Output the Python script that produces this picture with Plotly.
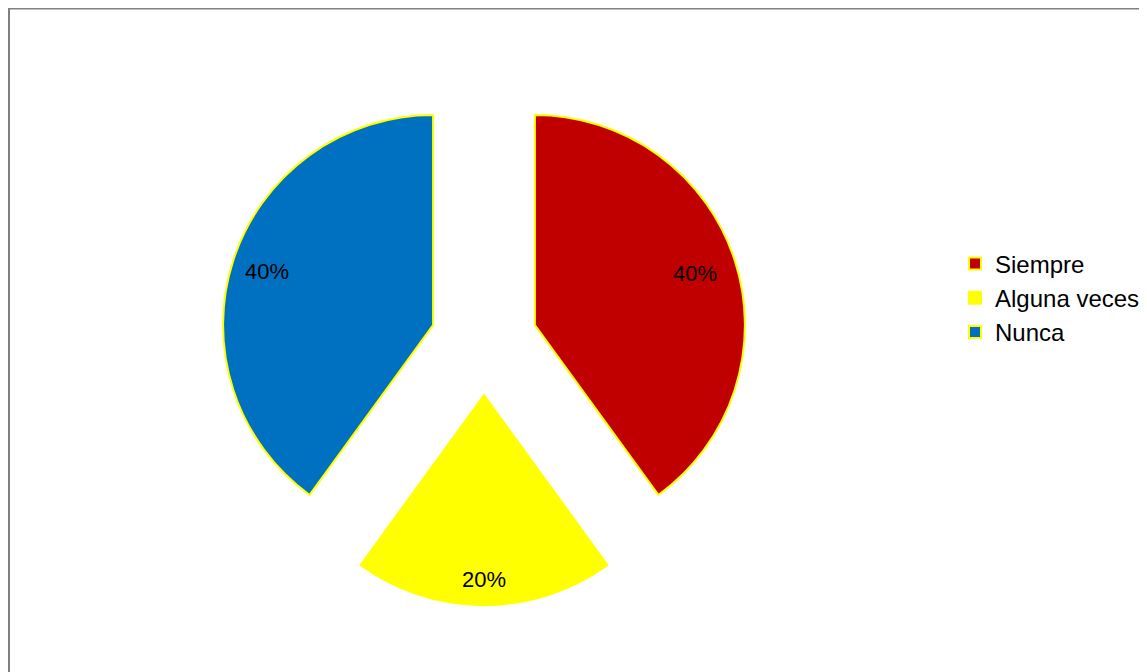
import math
import plotly.graph_objects as go

categories = ["Siempre", "Alguna veces", "Nunca"]
values = [40, 20, 40]
colors = ["#C00000", "#FFFF00", "#0070C0"]
pulls = [0.255, 0.255, 0.255]
label_radius_frac = [0.80, 0.88, 0.83]

W, H = 1147, 672
# page body adds an 8px offset, so geometry is in figure pixels
cx, cy = 476, 333.6
R = 210.0
ext = R * (1 + max(pulls))

fig = go.Figure(go.Pie(
    labels=categories,
    values=values,
    sort=False,
    direction="clockwise",
    rotation=0,
    pull=pulls,
    marker=dict(colors=colors, line=dict(color="#FFFF00", width=2)),
    textinfo="none",
    domain=dict(x=[(cx - ext) / W, (cx + ext) / W],
                y=[(H - cy - ext) / H, (H - cy + ext) / H]),
    hoverinfo="label+percent",
))

# percentage labels along each slice bisector, derived from the values
total = sum(values)
annotations = []
start = 0.0
for v, pull, frac in zip(values, pulls, label_radius_frac):
    ang = math.radians((start + v / 2) / total * 360)
    dist = R * (pull + frac)
    px = cx + dist * math.sin(ang)
    py = cy - dist * math.cos(ang)
    annotations.append(dict(
        x=px / W, y=1 - py / H, xref="paper", yref="paper",
        text=f"{round(v / total * 100)}%", showarrow=False,
        font=dict(family="Liberation Sans, Arial, sans-serif", size=22, color="black"),
        xanchor="center", yanchor="middle",
    ))
    start += v

fig.update_layout(
    width=W, height=H,
    margin=dict(l=0, r=0, t=0, b=0),
    paper_bgcolor="white",
    font=dict(family="Liberation Sans, Arial, sans-serif", color="black"),
    legend=dict(
        x=947 / W, y=1 - 290 / H, xanchor="left", yanchor="middle",
        font=dict(size=24, color="black"),
        bgcolor="rgba(0,0,0,0)",
    ),
    annotations=annotations,
    shapes=[dict(type="rect", xref="paper", yref="paper",
                 x0=1 / W, x1=1.05, y0=-0.05, y1=1 - 0.5 / H,
                 line=dict(color="#808080", width=2))],
)

fig.write_html("out.html")
